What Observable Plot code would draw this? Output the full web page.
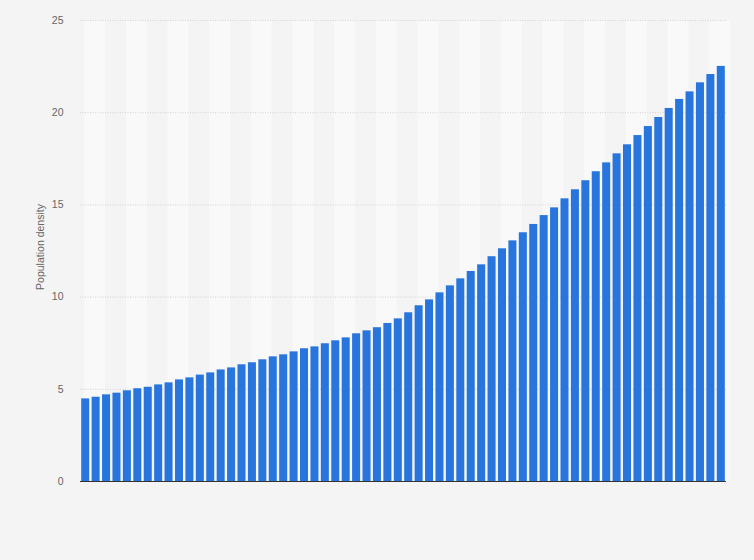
<!DOCTYPE html>
<html><head><meta charset="utf-8">
<script src="https://cdn.jsdelivr.net/npm/d3@7"></script>
<script src="https://cdn.jsdelivr.net/npm/@observablehq/plot@0.6"></script>
<style>
body{margin:0;background:#f4f4f4;}
#chart svg{display:block;}
</style>
</head><body><div id="chart"></div>
<script>
const years = [1961,1962,1963,1964,1965,1966,1967,1968,1969,1970,1971,1972,1973,1974,1975,1976,1977,1978,1979,1980,1981,1982,1983,1984,1985,1986,1987,1988,1989,1990,1991,1992,1993,1994,1995,1996,1997,1998,1999,2000,2001,2002,2003,2004,2005,2006,2007,2008,2009,2010,2011,2012,2013,2014,2015,2016,2017,2018,2019,2020,2021,2022];
const density = [4.48,4.57,4.70,4.79,4.92,5.03,5.11,5.24,5.35,5.51,5.62,5.77,5.89,6.05,6.16,6.33,6.44,6.60,6.76,6.87,7.03,7.20,7.30,7.47,7.63,7.79,8.01,8.17,8.34,8.57,8.82,9.15,9.53,9.85,10.23,10.61,10.99,11.39,11.75,12.19,12.62,13.05,13.49,13.94,14.42,14.84,15.33,15.82,16.31,16.80,17.28,17.77,18.26,18.76,19.25,19.74,20.23,20.72,21.13,21.62,22.07,22.51];
const yTicks = [0,5,10,15,20,25];
const yLabel = "Population density";

const data = years.map((year, i) => ({year, value: density[i]}));
const bandStarts = years.filter((y, i) => i % 4 === 0);

const chart = Plot.plot({
  width: 754,
  height: 560,
  marginLeft: 80,
  marginRight: 28,
  marginTop: 20,
  marginBottom: 79,
  style: {background: "transparent", fontFamily: "'Liberation Sans', Arial, sans-serif", fontSize: "10.5px", color: "#666"},
  x: {domain: [years[0], years[years.length - 1] + 1], axis: null},
  y: {domain: [0, 25], axis: null},
  marks: [
    Plot.rect(bandStarts, {x1: d => d + 0.4, x2: d => d + 2.4, y1: 0, y2: 25, fill: "#f9f9f9"}),
    Plot.ruleY(yTicks.filter(t => t > 0), {stroke: "#d2d2d2", strokeDasharray: "1,1.5"}),
    Plot.rectY(data, {x1: d => d.year, x2: d => d.year + 1, y: "value", fill: "#2876dd", insetLeft: 1.2, insetRight: 1.2}),
    Plot.ruleY([0], {stroke: "#333", strokeWidth: 1}),
    Plot.axisY({ticks: yTicks, tickSize: 0, tickPadding: 17, label: null, fill: "#666", fontSize: 10.5}),
    Plot.text([yLabel], {frameAnchor: "left", rotate: -90, textAnchor: "middle", dx: -40, dy: -4, fill: "#666", fontSize: 10.5})
  ]
});
document.getElementById("chart").appendChild(chart);
</script>
</body></html>
